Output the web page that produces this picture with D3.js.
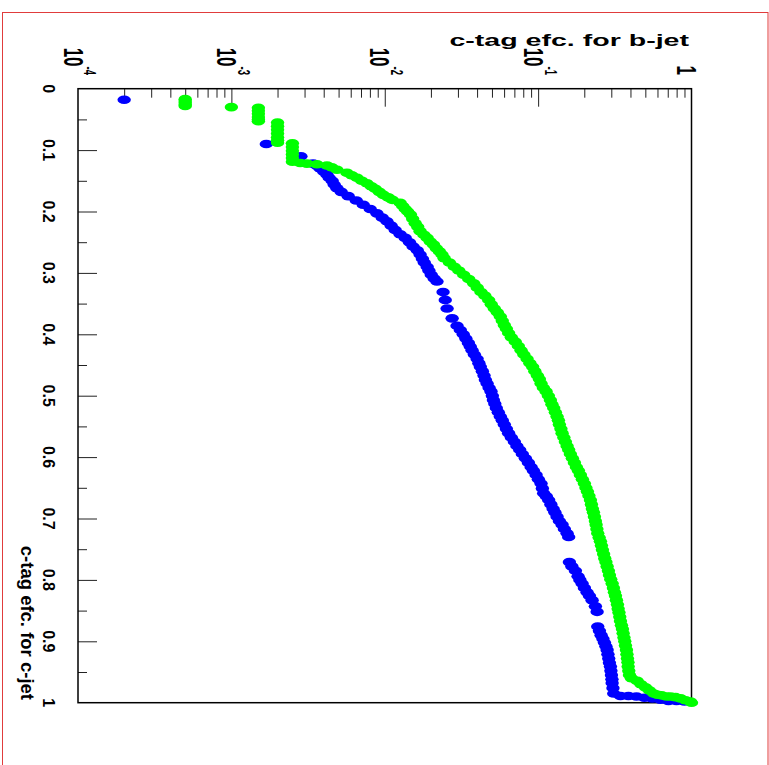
<!DOCTYPE html>
<html>
<head>
<meta charset="utf-8">
<script src="https://cdn.jsdelivr.net/npm/d3@7"></script>
<style>
  body { margin: 0; background: #fff; }
  text { font-family: "Liberation Sans", Arial, Helvetica, sans-serif; font-weight: bold; fill: #000; }
</style>
</head>
<body>
<script>
const WIDTH = 769;
const HEIGHT = 765;

// c-tag efficiency for c-jets (vertical, linear) and for b-jets (horizontal, log)
const blueCEff = [0.018, 0.090, 0.110, 0.122, 0.126, 0.130, 0.135, 0.140, 0.145, 0.150, 0.156, 0.162,
  0.168, 0.175, 0.182, 0.189, 0.196, 0.203, 0.210, 0.216, 0.223, 0.230, 0.237, 0.243, 0.250, 0.257,
  0.263, 0.270, 0.277, 0.283, 0.290, 0.296, 0.303, 0.309, 0.314, 0.331, 0.344, 0.358, 0.374, 0.386,
  0.393, 0.400, 0.407, 0.414, 0.420, 0.426, 0.433, 0.440, 0.447, 0.453, 0.460, 0.467, 0.474, 0.480,
  0.487, 0.493, 0.500, 0.507, 0.513, 0.520, 0.527, 0.534, 0.540, 0.547, 0.554, 0.561, 0.568, 0.575,
  0.582, 0.588, 0.595, 0.602, 0.609, 0.616, 0.622, 0.629, 0.636, 0.643, 0.651, 0.659, 0.664, 0.670,
  0.677, 0.684, 0.690, 0.697, 0.704, 0.710, 0.717, 0.724, 0.730, 0.771, 0.778, 0.785, 0.794, 0.800,
  0.806, 0.813, 0.820, 0.826, 0.833, 0.843, 0.852, 0.876, 0.883, 0.890, 0.896, 0.902, 0.908, 0.914,
  0.921, 0.928, 0.935, 0.941, 0.948, 0.955, 0.962, 0.968, 0.976, 0.985, 0.989, 0.989, 0.990, 0.992,
  0.993, 0.995, 0.997, 0.997, 0.998];
const blueBEff = [2.0e-4, 1.69e-3, 2.84e-3, 3.41e-3, 3.63e-3, 3.79e-3, 4.00e-3, 4.20e-3, 4.34e-3, 4.54e-3, 4.68e-3, 4.88e-3,
  5.20e-3, 5.78e-3, 6.52e-3, 7.24e-3, 8.04e-3, 8.89e-3, 9.63e-3, 1.033e-2, 1.10e-2, 1.17e-2, 1.26e-2, 1.36e-2, 1.45e-2, 1.53e-2,
  1.63e-2, 1.70e-2, 1.76e-2, 1.81e-2, 1.89e-2, 1.94e-2, 2.01e-2, 2.10e-2, 2.19e-2, 2.40e-2, 2.48e-2, 2.55e-2, 2.75e-2, 2.96e-2,
  3.11e-2, 3.25e-2, 3.38e-2, 3.51e-2, 3.61e-2, 3.71e-2, 3.84e-2, 4.00e-2, 4.11e-2, 4.20e-2, 4.33e-2, 4.44e-2, 4.53e-2, 4.65e-2,
  4.79e-2, 4.93e-2, 5.03e-2, 5.11e-2, 5.22e-2, 5.34e-2, 5.50e-2, 5.67e-2, 5.84e-2, 6.02e-2, 6.21e-2, 6.42e-2, 6.69e-2, 7.00e-2,
  7.27e-2, 7.58e-2, 7.89e-2, 8.26e-2, 8.64e-2, 9.00e-2, 9.31e-2, 9.70e-2, 0.1004, 0.1045, 0.1066, 0.1087, 0.1132, 0.1172,
  0.1211, 0.1252, 0.1286, 0.1329, 0.1376, 0.1433, 0.1483, 0.1545, 0.1582, 0.1599, 0.1660, 0.1750, 0.1822, 0.1872,
  0.1935, 0.2003, 0.2086, 0.2160, 0.2249, 0.2363, 0.2425, 0.2447, 0.2510, 0.2575, 0.2645, 0.2706, 0.2767, 0.2818,
  0.2852, 0.2886, 0.2917, 0.2961, 0.2983, 0.3006, 0.3029, 0.3038, 0.3075, 0.3112, 0.3442, 0.3880, 0.4377, 0.4935,
  0.5565, 0.6275, 0.7078, 0.7982, 0.900];

const greenCEff = [0.017, 0.020, 0.023, 0.026, 0.028, 0.030, 0.031, 0.036, 0.041, 0.046, 0.050, 0.053,
  0.055, 0.061, 0.067, 0.073, 0.079, 0.084, 0.088, 0.089, 0.095, 0.101, 0.107, 0.113, 0.119,
  0.121, 0.122, 0.123, 0.125, 0.128, 0.132, 0.137, 0.141, 0.145, 0.150, 0.154, 0.159, 0.163, 0.168,
  0.173, 0.177, 0.181, 0.186, 0.191, 0.196, 0.200, 0.205, 0.212, 0.219, 0.225, 0.232, 0.238, 0.243,
  0.249, 0.254, 0.260, 0.265, 0.270, 0.276, 0.283, 0.290, 0.296, 0.303, 0.310, 0.317, 0.324, 0.331,
  0.337, 0.344, 0.351, 0.358, 0.364, 0.371, 0.378, 0.385, 0.391, 0.398, 0.405, 0.412, 0.419, 0.426,
  0.433, 0.440, 0.447, 0.453, 0.460, 0.467, 0.473, 0.480, 0.487, 0.493, 0.500, 0.507, 0.514, 0.520,
  0.527, 0.534, 0.540, 0.547, 0.554, 0.561, 0.568, 0.575, 0.582, 0.588, 0.595, 0.602, 0.609, 0.616,
  0.622, 0.629, 0.636, 0.643, 0.650, 0.656, 0.663, 0.670, 0.677, 0.684, 0.690, 0.697, 0.704, 0.710,
  0.717, 0.724, 0.731, 0.737, 0.744, 0.751, 0.758, 0.765, 0.771, 0.778, 0.785, 0.792, 0.799, 0.806,
  0.813, 0.820, 0.826, 0.833, 0.840, 0.847, 0.853, 0.860, 0.867, 0.874, 0.880, 0.887, 0.894, 0.900,
  0.907, 0.914, 0.921, 0.928, 0.934, 0.941, 0.948, 0.955, 0.960, 0.9645, 0.970, 0.975, 0.980, 0.985,
  0.987, 0.988, 0.990, 0.990, 0.991, 0.993, 0.996, 0.998, 1.000];
const greenBEff = [5.0e-4, 5.0e-4, 5.0e-4, 5.0e-4, 5.0e-4, 1.0e-3, 1.5e-3, 1.5e-3, 1.5e-3, 1.5e-3, 1.5e-3, 1.5e-3,
  2.0e-3, 2.0e-3, 2.0e-3, 2.0e-3, 2.0e-3, 2.0e-3, 2.0e-3, 2.5e-3, 2.5e-3, 2.5e-3, 2.5e-3, 2.5e-3, 2.5e-3,
  2.81e-3, 3.11e-3, 3.61e-3, 4.20e-3, 4.51e-3, 4.88e-3, 5.67e-3, 6.09e-3, 6.59e-3, 7.08e-3, 7.65e-3, 8.17e-3, 8.67e-3, 9.21e-3,
  9.82e-3, 1.054e-2, 1.119e-2, 1.26e-2, 1.31e-2, 1.36e-2, 1.41e-2, 1.47e-2, 1.52e-2, 1.58e-2, 1.64e-2, 1.70e-2, 1.80e-2, 1.89e-2,
  1.98e-2, 2.08e-2, 2.17e-2, 2.27e-2, 2.36e-2, 2.44e-2, 2.64e-2, 2.84e-2, 3.04e-2, 3.27e-2, 3.53e-2, 3.80e-2, 4.01e-2, 4.24e-2,
  4.49e-2, 4.76e-2, 4.95e-2, 5.18e-2, 5.42e-2, 5.67e-2, 5.84e-2, 6.02e-2, 6.21e-2, 6.42e-2, 6.69e-2, 7.10e-2, 7.43e-2, 7.74e-2,
  8.07e-2, 8.47e-2, 8.84e-2, 9.21e-2, 9.52e-2, 9.89e-2, 0.1019, 0.1045, 0.1082, 0.1127, 0.1166, 0.1202, 0.1230, 0.1264,
  0.1296, 0.1329, 0.1356, 0.1376, 0.1408, 0.1433, 0.1472, 0.1506, 0.1545, 0.1582, 0.1623, 0.1673, 0.1724, 0.1776,
  0.1830, 0.1886, 0.1944, 0.2003, 0.2050, 0.2096, 0.2144, 0.2193, 0.2226, 0.2259, 0.2294, 0.2328, 0.2363, 0.2388,
  0.2417, 0.2447, 0.2499, 0.2548, 0.2587, 0.2626, 0.2674, 0.2719, 0.2767, 0.2818, 0.2873, 0.2917, 0.2974, 0.3038,
  0.3097, 0.3145, 0.3193, 0.3241, 0.3290, 0.3325, 0.3365, 0.3406, 0.3442, 0.3494, 0.3547, 0.3584, 0.3628, 0.3672,
  0.3711, 0.3767, 0.3795, 0.3824, 0.3853, 0.3864, 0.3899, 0.3940, 0.4060, 0.4424, 0.4683, 0.5010, 0.5320, 0.5675,
  0.5999, 0.6372, 0.6869, 0.7296, 0.7864, 0.8478, 0.9138, 0.985, 1.000];

const cTicks = [0, 0.1, 0.2, 0.3, 0.4, 0.5, 0.6, 0.7, 0.8, 0.9, 1];
const cTickLabels = ["0", "0.1", "0.2", "0.3", "0.4", "0.5", "0.6", "0.7", "0.8", "0.9", "1"];
const cMinorTicks = [0.05, 0.15, 0.25, 0.35, 0.45, 0.55, 0.65, 0.75, 0.85, 0.95];
const bDecades = [1e-4, 1e-3, 1e-2, 1e-1, 1];
const bExponents = ["-4", "-3", "-2", "-1", ""];

const bTitle = "c-tag efc. for b-jet";
const cTitle = "c-tag efc. for c-jet";

const STRETCH = 1.68;   // the b-jet axis text is drawn wide in the original

let svg = d3.select("body")
            .append("svg")
            .attr("width", WIDTH)
            .attr("height", HEIGHT);

svg.append("rect")
   .attr("x", 2.5)
   .attr("y", 12.5)
   .attr("width", 765.5)
   .attr("height", 780)
   .attr("fill", "none")
   .attr("stroke", "#e03c3c")
   .attr("stroke-width", 1);

let x = d3.scaleLog().domain([1e-4, 1]).range([78, 691.5]);
let y = d3.scaleLinear().domain([0, 1]).range([88.7, 702.7]);

let bMinor = [];
bDecades.slice(0, -1).forEach(d => { for (let k = 2; k < 10; k++) bMinor.push(d * k); });

// ticks, pointing into the frame
svg.append("g")
   .attr("transform", `translate(0,${y(0)})`)
   .call(d3.axisTop(x).tickValues(bDecades.slice(1, -1)).tickSizeInner(-18).tickSizeOuter(0).tickFormat(""));
svg.append("g")
   .attr("transform", `translate(0,${y(0)})`)
   .call(d3.axisTop(x).tickValues(bMinor).tickSizeInner(-9).tickSizeOuter(0).tickFormat(""));
svg.append("g")
   .attr("transform", `translate(${x(1e-4)},0)`)
   .call(d3.axisLeft(y).tickValues(cTicks.slice(1, -1)).tickSizeInner(-19).tickSizeOuter(0).tickFormat(""));
svg.append("g")
   .attr("transform", `translate(${x(1e-4)},0)`)
   .call(d3.axisLeft(y).tickValues(cMinorTicks).tickSizeInner(-9).tickSizeOuter(0).tickFormat(""));

svg.selectAll(".domain").remove();
svg.selectAll(".tick line").attr("stroke", "#222").attr("stroke-width", 1);

// frame
svg.append("rect")
   .attr("x", x(1e-4))
   .attr("y", y(0))
   .attr("width", x(1) - x(1e-4))
   .attr("height", y(1) - y(0))
   .attr("fill", "none")
   .attr("stroke", "#000")
   .attr("stroke-width", 1.5);

// c-jet labels, rotated
svg.selectAll("text.clab")
   .data(cTicks)
   .enter().append("text")
   .attr("class", "clab")
   .attr("transform", d => `translate(43,${y(d)}) rotate(90)`)
   .attr("text-anchor", "middle")
   .style("font-size", "16px")
   .text((d, i) => cTickLabels[i]);

// b-jet labels, rotated and stretched
let blab = svg.selectAll("text.blab")
              .data(bDecades)
              .enter().append("text")
              .attr("class", "blab")
              .attr("transform", d => `translate(${x(d) - 14.5},75) rotate(90) scale(1,${STRETCH})`)
              .attr("text-anchor", "end")
              .style("font-size", "17px");
blab.append("tspan")
    .text((d, i) => bExponents[i] === "" ? "1" : "10");
blab.append("tspan")
    .attr("dy", -12.5)
    .style("font-size", "9.5px")
    .text((d, i) => bExponents[i]);

svg.append("text")
   .attr("transform", `translate(689,45.7) scale(${STRETCH},1)`)
   .attr("text-anchor", "end")
   .style("font-size", "17px")
   .text(bTitle);

svg.append("text")
   .attr("transform", "translate(20.5,700) rotate(90)")
   .attr("text-anchor", "end")
   .style("font-size", "18.5px")
   .text(cTitle);

// markers
const drawSeries = (cs, bs, color) => {
  svg.append("g")
     .selectAll("ellipse")
     .data(d3.zip(cs, bs))
     .enter().append("ellipse")
     .attr("cx", d => x(d[1]))
     .attr("cy", d => y(d[0]))
     .attr("rx", 6.7)
     .attr("ry", 4.3)
     .attr("fill", color);
};

drawSeries(blueCEff, blueBEff, "#0000ff");
drawSeries(greenCEff, greenBEff, "#00ff00");
</script>
</body>
</html>
